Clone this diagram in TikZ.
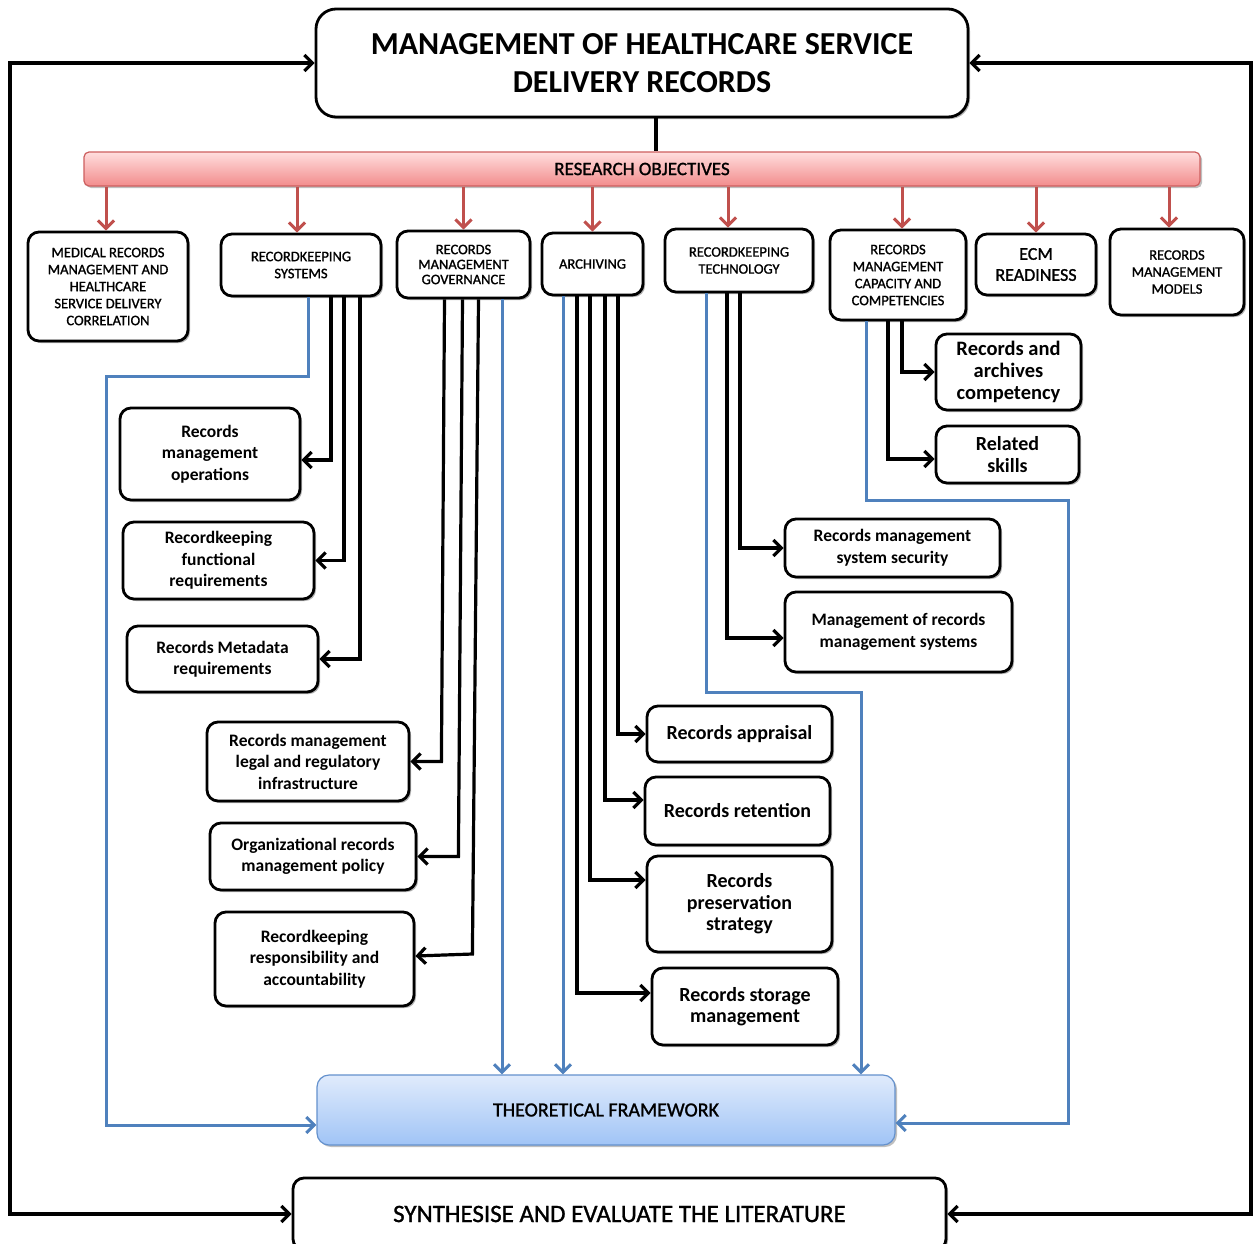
\documentclass[tikz,border=0pt]{standalone}
\usepackage{fontspec}
\setmainfont{Carlito}
\newfontfamily\medfont[FakeBold=1.2]{Carlito}
\usetikzlibrary{arrows.meta,shadows}
\definecolor{redarr}{RGB}{192,80,77}
\definecolor{bluel}{RGB}{79,129,189}
\definecolor{bartop}{RGB}{255,222,222}
\definecolor{barbot}{RGB}{242,140,140}
\definecolor{barline}{RGB}{205,95,95}
\definecolor{tftop}{RGB}{224,235,252}
\definecolor{tfbot}{RGB}{160,196,246}
\definecolor{tfline}{RGB}{100,145,205}
\begin{document}
\begin{tikzpicture}[x=1pt,y=-1pt,
  >={Straight Barb[length=8pt,width=16pt]},
  box/.style={draw=black, line width=2.8pt, rounded corners=11pt, fill=white, align=center, inner sep=2pt,
    drop shadow={shadow xshift=2pt,shadow yshift=-2pt,opacity=0.3,fill=black}},
  capbox/.style={box, font=\medfont\fontsize{14.5}{17}\selectfont},
  subbox/.style={box, font=\bfseries\fontsize{17.5}{21.5}\selectfont},
  bigsub/.style={box, font=\bfseries\fontsize{20}{21.5}\selectfont},
  blk/.style={draw=black, line width=3.2pt, ->},
  blu/.style={draw=bluel, line width=3pt, ->},
  redar/.style={draw=redarr, line width=3pt, ->}]
\fill[white] (0,0) rectangle (1253,1243);
\useasboundingbox (0,0) rectangle (1253,1243);

% title
\node[box, rounded corners=20pt, minimum width=652pt, minimum height=108pt,
  font=\bfseries\fontsize{32}{38}\selectfont] (title) at (642,63)
  {MANAGEMENT OF HEALTHCARE SERVICE\\DELIVERY RECORDS};

% research objectives bar
\node[draw=barline, line width=1.2pt, rounded corners=5pt, top color=bartop, bottom color=barbot,
  minimum width=1116pt, minimum height=34pt, font=\medfont\fontsize{19}{22}\selectfont,
  drop shadow={shadow xshift=2pt,shadow yshift=-2pt,opacity=0.25,fill=black}] (bar) at (642,169) {RESEARCH OBJECTIVES};

\coordinate (tt) at ([xshift=14pt]title.south);
\draw[draw=black, line width=3.2pt] (tt) -- (tt |- bar.north);

% top boxes
\node[capbox, minimum width=160pt, minimum height=109pt] (m1) at (108,286.5)
  {MEDICAL RECORDS\\MANAGEMENT AND\\HEALTHCARE\\SERVICE DELIVERY\\CORRELATION};
\node[capbox, minimum width=160pt, minimum height=62pt] (m2) at (301,265)
  {RECORDKEEPING\\SYSTEMS};
\node[capbox, minimum width=133pt, minimum height=67pt, font=\medfont\fontsize{14.5}{15}\selectfont] (m3) at (463.5,264.5)
  {RECORDS\\MANAGEMENT\\GOVERNANCE};
\node[capbox, minimum width=101pt, minimum height=62pt] (m4) at (592.5,264)
  {ARCHIVING};
\node[capbox, minimum width=148pt, minimum height=63pt] (m5) at (739,260.5)
  {RECORDKEEPING\\TECHNOLOGY};
\node[capbox, minimum width=136pt, minimum height=90pt] (m6) at (898,275)
  {RECORDS\\MANAGEMENT\\CAPACITY AND\\COMPETENCIES};
\node[capbox, minimum width=120pt, minimum height=61pt, font=\medfont\fontsize{18}{21}\selectfont] (m7) at (1036,264.5)
  {ECM\\READINESS};
\node[capbox, minimum width=134pt, minimum height=86pt] (m8) at (1177,272)
  {RECORDS\\MANAGEMENT\\MODELS};

% red arrows
\draw[redar] ([xshift=-2pt]bar.south -| m1.north) -- ([xshift=-2pt]m1.north);
\draw[redar] ([xshift=-4pt]bar.south -| m2.north) -- ([xshift=-4pt]m2.north);
\draw[redar] (bar.south -| m3.north) -- (m3.north);
\draw[redar] (bar.south -| m4.north) -- (m4.north);
\draw[redar] ([xshift=-11pt]bar.south -| m5.north) -- ([xshift=-11pt]m5.north);
\draw[redar] ([xshift=4pt]bar.south -| m6.north) -- ([xshift=4pt]m6.north);
\draw[redar] (bar.south -| m7.north) -- (m7.north);
\draw[redar] ([xshift=-8pt]bar.south -| m8.north) -- ([xshift=-8pt]m8.north);

% sub boxes left
\node[subbox, minimum width=180pt, minimum height=92pt] (s1) at (210,454)
  {Records\\management\\operations};
\node[subbox, minimum width=191pt, minimum height=77pt] (s2) at (218.5,560.5)
  {Recordkeeping\\functional\\requirements};
\node[subbox, minimum width=191pt, minimum height=66pt] (s3) at (222.5,659)
  {Records Metadata\\requirements};
\node[subbox, minimum width=202pt, minimum height=79pt] (s4) at (308,761.5)
  {Records management\\legal and regulatory\\infrastructure};
\node[subbox, minimum width=206pt, minimum height=67pt] (s5) at (313,856.5)
  {Organizational records\\management policy};
\node[subbox, minimum width=199pt, minimum height=94pt] (s6) at (314.5,959)
  {Recordkeeping\\responsibility and\\accountability};

% archiving boxes
\node[bigsub, minimum width=185pt, minimum height=56pt] (a1) at (739.5,734) {Records appraisal};
\node[bigsub, minimum width=185pt, minimum height=68pt] (a2) at (737.5,811) {Records retention};
\node[bigsub, minimum width=185pt, minimum height=96pt] (a3) at (739.5,904) {Records\\preservation\\strategy};
\node[bigsub, minimum width=186pt, minimum height=77pt] (a4) at (745,1006.5) {Records storage\\management};

% technology boxes
\node[subbox, minimum width=215pt, minimum height=58pt, font=\bfseries\fontsize{17.5}{22}\selectfont] (t1) at (892.5,548)
  {Records management\\system security};
\node[subbox, minimum width=227pt, minimum height=80pt, font=\bfseries\fontsize{17.5}{22}\selectfont] (t2) at (898.5,632)
  {Management of records\\management systems};

% capacity boxes
\node[bigsub, minimum width=145pt, minimum height=76pt, font=\bfseries\fontsize{20.5}{22}\selectfont] (c1) at (1008.5,372)
  {Records and\\archives\\competency};
\node[bigsub, minimum width=143pt, minimum height=57pt, font=\bfseries\fontsize{20}{22}\selectfont] (c2) at (1007.5,454.5)
  {Related\\skills};

% theoretical framework
\node[draw=tfline, line width=1.2pt, rounded corners=12pt, top color=tftop, bottom color=tfbot,
  minimum width=578pt, minimum height=70pt, font=\medfont\fontsize{20}{24}\selectfont,
  drop shadow={shadow xshift=2pt,shadow yshift=-2pt,opacity=0.25,fill=black}] (tf) at (606,1110) {THEORETICAL FRAMEWORK};

% synthesise
\node[box, minimum width=653pt, minimum height=72pt, font=\medfont\fontsize{25}{30}\selectfont] (syn) at (619.5,1214)
  {SYNTHESISE AND EVALUATE THE LITERATURE};

% recordkeeping systems connectors
\draw[blk] ([xshift=30pt]m2.south) |- ([yshift=-6pt]s1.east);
\draw[blk] ([xshift=43pt]m2.south) |- (s2.east);
\draw[blk] ([xshift=59pt]m2.south) |- (s3.east);
\coordinate (kb) at (106,376);
\draw[blu] ([xshift=7pt]m2.south) |- (kb) |- ([yshift=-15pt]tf.west);

% governance connectors
\draw[blk] ([xshift=-19pt]m3.south) -- ([xshift=31pt]s4.east) -- (s4.east);
\draw[blk] ([xshift=-1pt]m3.south) -- ([xshift=41pt]s5.east) -- (s5.east);
\draw[blk] ([xshift=15pt]m3.south) -- ([xshift=57pt,yshift=5pt]s6.east) -- ([yshift=3pt]s6.east);
\coordinate (g0) at ([xshift=38.5pt]m3.south);
\draw[blu] (g0) -- (g0 |- tf.north);

% archiving connectors
\draw[blk] ([xshift=25.5pt]m4.south) |- (a1.west);
\draw[blk] ([xshift=12.5pt]m4.south) |- ([yshift=11pt]a2.west);
\draw[blk] ([xshift=-2.5pt]m4.south) |- ([yshift=24pt]a3.west);
\draw[blk] ([xshift=-15.5pt]m4.south) |- ([yshift=13.5pt]a4.west);
\coordinate (ar0) at ([xshift=-29.5pt]m4.south);
\draw[blu] (ar0) -- (ar0 |- tf.north);

% technology connectors
\draw[blk] ([xshift=1pt]m5.south) |- (t1.west);
\draw[blk] ([xshift=-12pt]m5.south) |- ([yshift=-6pt]t2.west);
\coordinate (tb) at (861,692);
\draw[blu] ([xshift=-33pt]m5.south) |- (tb) -- (tb |- tf.north);

% capacity connectors
\draw[blk] ([xshift=4pt]m6.south) |- (c1.west);
\draw[blk] ([xshift=-10pt]m6.south) |- ([yshift=-4.5pt]c2.west);
\coordinate (cb) at (1068,500);
\draw[blu] ([xshift=-32pt]m6.south) |- (cb) |- ([yshift=-13pt]tf.east);

% outer feedback loops
\coordinate (ol) at (10,600);
\coordinate (or) at (1251,600);
\draw[blk,<->] (title.west) -| (ol) |- (syn.west);
\draw[blk,<->] (title.east) -| (or) |- (syn.east);
\end{tikzpicture}
\end{document}
